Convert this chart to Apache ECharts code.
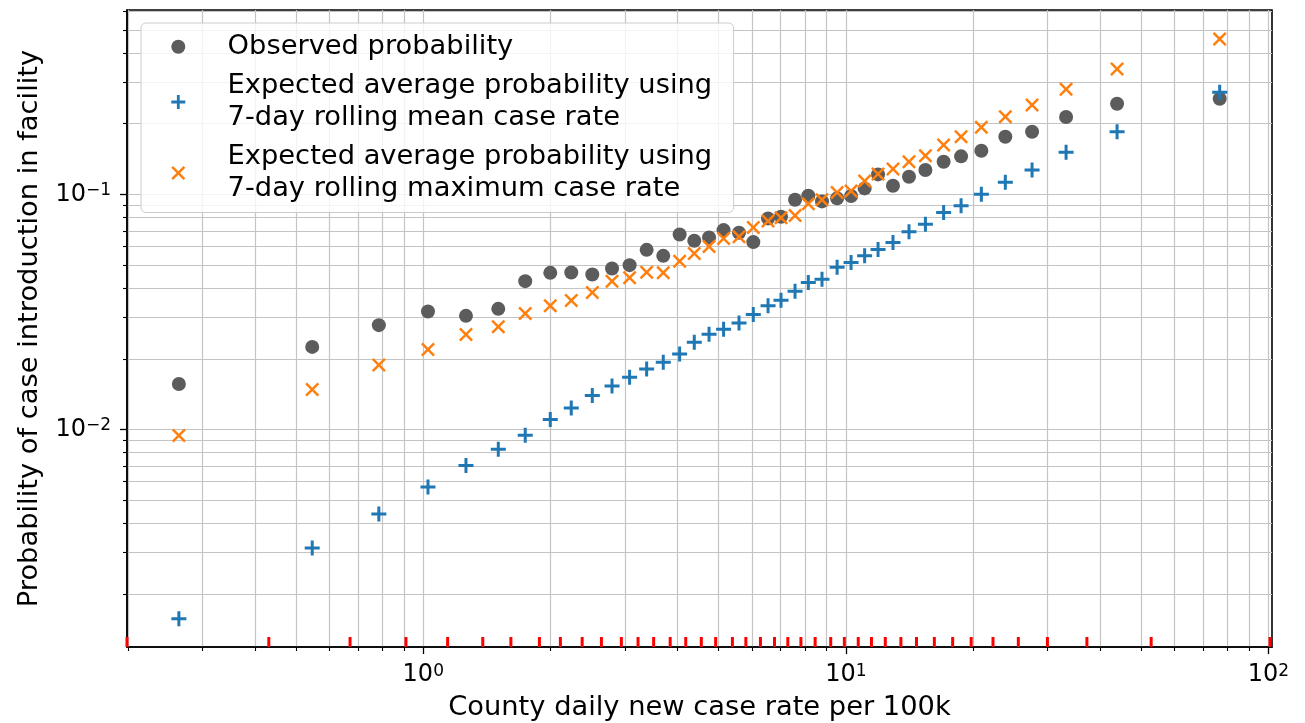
<!DOCTYPE html>
<html>
<head>
<meta charset="utf-8">
<script src="https://cdn.jsdelivr.net/npm/echarts/dist/echarts.min.js"></script>
<style>
html,body{margin:0;padding:0;background:#fff;}
#chart{width:1305px;height:723px;}
</style>
</head>
<body>
<div id="chart"></div>
<script>
// ---- data ----
const rateBins = [0.264, 0.546, 0.785, 1.026, 1.262, 1.505, 1.743, 1.998, 2.240, 2.512,
  2.797, 3.078, 3.378, 3.698, 4.043, 4.379, 4.746, 5.137, 5.588, 6.040,
  6.546, 7.025, 7.583, 8.152, 8.783, 9.537, 10.29, 11.08, 11.92, 12.93,
  14.11, 15.43, 17.04, 18.74, 20.93, 23.85, 27.59, 33.21, 43.85, 76.7];
const observedProb = [0.01563, 0.02246, 0.02779, 0.03178, 0.03044, 0.03260, 0.04277, 0.04638, 0.04657, 0.04566,
  0.04843, 0.05001, 0.05810, 0.05478, 0.06756, 0.06348, 0.06561, 0.07047, 0.06864, 0.06266,
  0.07905, 0.08031, 0.09485, 0.09863, 0.09337, 0.09616, 0.09835, 0.1060, 0.1216, 0.1088,
  0.1188, 0.1269, 0.1376, 0.1451, 0.1532, 0.1758, 0.1846, 0.2133, 0.2429, 0.2551];
const expectedMeanProb = [0.001569, 0.003134, 0.004374, 0.005698, 0.007026, 0.008245, 0.009456, 0.01103, 0.01236, 0.01395,
  0.01533, 0.01670, 0.01811, 0.01934, 0.02098, 0.02352, 0.02544, 0.02672, 0.02842, 0.03085,
  0.03357, 0.03550, 0.03878, 0.04221, 0.04360, 0.04905, 0.05134, 0.05478, 0.05834, 0.06248,
  0.06933, 0.07469, 0.08381, 0.08943, 0.1000, 0.1125, 0.1269, 0.1509, 0.1846, 0.2716];
const expectedMaxProb = [0.009430, 0.01480, 0.01883, 0.02190, 0.02537, 0.02733, 0.03115, 0.03357, 0.03539, 0.03828,
  0.04277, 0.04417, 0.04671, 0.04638, 0.05201, 0.05610, 0.06007, 0.06497, 0.06600, 0.07237,
  0.07699, 0.07951, 0.08140, 0.09120, 0.09485, 0.1018, 0.1033, 0.1139, 0.1220, 0.1281,
  0.1376, 0.1460, 0.1621, 0.1758, 0.1928, 0.2139, 0.2399, 0.2798, 0.3413, 0.4580];
const binEdges = [0.199, 0.431, 0.671, 0.910, 1.142, 1.383, 1.612, 1.883, 2.111, 2.377,
  2.640, 2.943, 3.223, 3.509, 3.840, 4.180, 4.55, 4.92, 5.39, 5.80,
  6.28, 6.78, 7.29, 7.83, 8.46, 9.21, 9.92, 10.7, 11.5, 12.4,
  13.5, 14.7, 16.2, 17.9, 19.8, 22.3, 25.6, 30.0, 37.2, 52.8, 100.9];
const xMajorTicks = [1, 10, 100];
const xMinorTicks = [0.2, 0.3, 0.4, 0.5, 0.6, 0.7, 0.8, 0.9,
  2, 3, 4, 5, 6, 7, 8, 9, 20, 30, 40, 50, 60, 70, 80, 90];
const yMajorTicks = [0.01, 0.1];
const yMinorTicks = [0.002, 0.003, 0.004, 0.005, 0.006, 0.007, 0.008, 0.009,
  0.02, 0.03, 0.04, 0.05, 0.06, 0.07, 0.08, 0.09, 0.2, 0.3, 0.4, 0.5, 0.6];
const seriesNames = ['Observed probability',
  'Expected average probability using\n7-day rolling mean case rate',
  'Expected average probability using\n7-day rolling maximum case rate'];
const xTitle = 'County daily new case rate per 100k';
const yTitle = 'Probability of case introduction in facility';
const X_MIN = 0.199, X_MAX = 102, Y_MIN = 0.00119, Y_MAX = 0.608;

// ---- styling ----
const FONT = 'DejaVu Sans';
const GRID_COLOR = '#c4c4c4';
const PLUS = 'path://M6,0H9V6H15V9H9V15H6V9H0V6H6Z';
const CROSS = 'path://M0,2L2,0L8,6L14,0L16,2L10,8L16,14L14,16L8,10L2,16L0,14L6,8Z';

function powLabel(v) {
  const e = Math.round(Math.log10(v));
  return '{b|10}{s|' + String(e).replace('-', '\u2212') + '}';
}
const richLab = {
  b: {fontSize: 24, fontFamily: FONT, color: '#000', lineHeight: 24, padding: [4, 0, 0, 0], verticalAlign: 'bottom'},
  s: {fontSize: 17, fontFamily: FONT, color: '#000', lineHeight: 17, verticalAlign: 'top'}
};
const splitStyle = {show: true, lineStyle: {color: GRID_COLOR, width: 1.2}};

const chart = echarts.init(document.getElementById('chart'), null, {renderer: 'canvas'});
chart.setOption({
  animation: false,
  backgroundColor: '#fff',
  grid: {left: 127, right: 33, top: 10, bottom: 76, containLabel: false, outerBoundsMode: 'none',
    show: true, borderColor: '#000', borderWidth: 1.6, backgroundColor: 'transparent'},
  legend: {
    left: 141, top: 23, orient: 'vertical',
    padding: [8, 21.5, 8, 30.3],
    itemWidth: 30.6, itemHeight: 14, itemGap: 8,
    backgroundColor: 'rgba(255,255,255,0.8)', borderColor: '#cccccc', borderWidth: 1, borderRadius: 5,
    textStyle: {fontFamily: FONT, fontSize: 27.3, color: '#000', lineHeight: 31.5, padding: [0, 0, 0, 29]},
    data: [
      {name: seriesNames[0], icon: 'circle'},
      {name: seriesNames[1], icon: PLUS},
      {name: seriesNames[2], icon: CROSS}
    ]
  },
  xAxis: [{
    type: 'log', logBase: 10, min: X_MIN, max: X_MAX,
    name: xTitle, nameLocation: 'middle', nameGap: 47,
    nameTextStyle: {fontFamily: FONT, fontSize: 27.3, color: '#000'},
    axisLine: {show: true, lineStyle: {color: '#000', width: 1.6}},
    axisTick: {show: true, customValues: xMajorTicks, length: 7, lineStyle: {color: '#000', width: 1.3}},
    axisLabel: {customValues: xMajorTicks, formatter: powLabel, rich: richLab, margin: 16},
    splitLine: splitStyle, minorTick: {show: false}, minorSplitLine: {show: false}
  }, {
    type: 'log', logBase: 10, min: X_MIN, max: X_MAX, position: 'bottom',
    axisLine: {show: false},
    axisTick: {show: true, customValues: xMinorTicks, length: 4, lineStyle: {color: '#000', width: 1.1}},
    axisLabel: {show: false},
    splitLine: splitStyle
  }],
  yAxis: [{
    type: 'log', logBase: 10, min: Y_MIN, max: Y_MAX,
    name: yTitle, nameLocation: 'middle', nameGap: 84, nameRotate: 90,
    nameTextStyle: {fontFamily: FONT, fontSize: 27.3, color: '#000'},
    axisLine: {show: true, lineStyle: {color: '#000', width: 1.6}},
    axisTick: {show: true, customValues: yMajorTicks, length: 7, lineStyle: {color: '#000', width: 1.3}},
    axisLabel: {customValues: yMajorTicks, formatter: powLabel, rich: richLab, margin: 16},
    splitLine: splitStyle, minorTick: {show: false}, minorSplitLine: {show: false}
  }, {
    type: 'log', logBase: 10, min: Y_MIN, max: Y_MAX, position: 'left',
    axisLine: {show: false},
    axisTick: {show: true, customValues: yMinorTicks, length: 4, lineStyle: {color: '#000', width: 1.1}},
    axisLabel: {show: false},
    splitLine: splitStyle
  }],
  series: [
    {
      name: seriesNames[0], type: 'scatter', symbol: 'circle', symbolSize: 14,
      itemStyle: {color: '#5c5c5c', opacity: 1},
      data: rateBins.map((x, i) => [x, observedProb[i]]), z: 3
    },
    {
      name: seriesNames[1], type: 'scatter', symbol: PLUS, symbolSize: 15,
      itemStyle: {color: '#1f77b4', opacity: 1},
      data: rateBins.map((x, i) => [x, expectedMeanProb[i]]), z: 4
    },
    {
      name: seriesNames[2], type: 'scatter', symbol: CROSS, symbolSize: 14,
      itemStyle: {color: '#ff7f0e', opacity: 1},
      data: rateBins.map((x, i) => [x, expectedMaxProb[i]]), z: 5
    },
    {
      name: 'bin edges', type: 'scatter', symbol: 'rect', symbolSize: [3, 10], symbolOffset: [0, -5],
      clip: false, silent: true,
      itemStyle: {color: '#ff0000', opacity: 1},
      data: binEdges.map(x => [x, Y_MIN]), z: 2
    }
  ]
});
</script>
</body>
</html>
